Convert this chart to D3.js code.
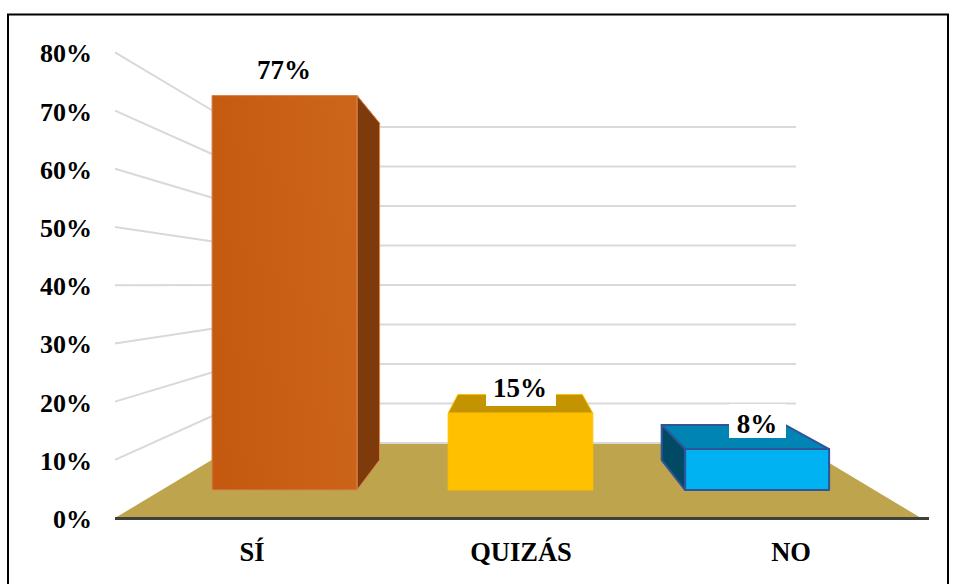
<!DOCTYPE html>
<html><head><meta charset="utf-8">
<script src="https://cdn.jsdelivr.net/npm/d3@7"></script>
<style>html,body{margin:0;padding:0;background:#fff}svg{display:block}text{font-family:"Liberation Serif","Times New Roman",serif;font-weight:700;fill:#000}</style>
</head><body><div id="c"></div>
<script>
const categories = ["SÍ","QUIZÁS","NO"];
const values = [77,15,8];
const labels = ["77%","15%","8%"];
const ticks = [0,10,20,30,40,50,60,70,80];
const frontColors = ["#c65c12","#ffc000","#00b2f2"];
const topColors = ["#c9621a","#c39300","#0084b4"];
const rightColors = ["#7f3a0b","#c39300","#0084b4"];
const leftColors = ["#c65c12","#c39300","#004a66"];
const strokes = ["#d9874e","#ffc000","#2f5597"];
const W=956,H=584;
const svg=d3.select("#c").append("svg").attr("width",W).attr("height",H);
const defs=svg.append("defs");
const g=defs.append("linearGradient").attr("id","g0").attr("x1","0").attr("x2","1").attr("y1","0.6").attr("y2","0.4");
g.append("stop").attr("offset","0").attr("stop-color","#c45a10");
g.append("stop").attr("offset","1").attr("stop-color","#cc6419");
svg.append("rect").attr("x",8).attr("y",14.5).attr("width",940).attr("height",H+10).attr("fill","#fff").attr("stroke","#000").attr("stroke-width",2);

// depth scales: d=0 front edge of floor, d=1 back wall
const baseY=d3.scaleLinear().domain([0,1]).range([518,443]);
const unit=d3.scaleLinear().domain([0,1]).range([5.82,3.95]);
const left=d3.scaleLinear().domain([0,1]).range([115,240]);
const right=d3.scaleLinear().domain([0,1]).range([921,796]);
const P=(u,v,d)=>[left(d)+(right(d)-left(d))*u, baseY(d)-v*unit(d)];
const poly=pts=>d3.line()(pts)+"Z";
const dF=0.373,dB=0.773;
const barU=[[0.0707,0.2741],[0.402,0.605],[0.7345,0.9365]];

// floor
svg.append("path").attr("d",poly([P(0,0,0),P(1,0,0),P(1,0,1),P(0,0,1)])).attr("fill","#bda44d");
// grid
const gl=svg.append("g").attr("stroke","#d9d9d9").attr("stroke-width",2).attr("fill","none");
ticks.forEach(t=>{
  if(t>0) gl.append("path").attr("d",d3.line()([P(0,t,0),P(0,t,1)]));
  gl.append("path").attr("d",d3.line()([P(0,t,1),P(1,t,1)]));
});
// axis
svg.append("line").attr("x1",115).attr("x2",929).attr("y1",518.5).attr("y2",518.5).attr("stroke","#404040").attr("stroke-width",3);
// tick labels
svg.selectAll(".yt").data(ticks).join("text").attr("class","yt").attr("x",92).attr("text-anchor","end")
 .attr("y",t=>P(0,t,0)[1]+10).attr("font-size",26).text(t=>t+"%");
// bars
categories.forEach((c,i)=>{
  const [a,b]=barU[i],v=values[i];
  const bar=svg.append("g").attr("stroke",strokes[i]).attr("stroke-width",i==2?2:1).attr("stroke-linejoin","round");
  bar.append("path").attr("d",poly([P(a,v,dF),P(b,v,dF),P(b,v,dB),P(a,v,dB)])).attr("fill",topColors[i]);
  if(i==0) bar.append("path").attr("d",poly([P(b,0,dF),P(b,v,dF),P(b,v,dB),P(b,0,dB)])).attr("fill",rightColors[i]);
  if(i==2) bar.append("path").attr("d",poly([P(a,0,dF),P(a,v,dF),P(a,v,dB),P(a,0,dB)])).attr("fill",leftColors[i]);
  bar.append("path").attr("d",poly([P(a,0,dF),P(b,0,dF),P(b,v,dF),P(a,v,dF)])).attr("fill",i==0?"url(#g0)":frontColors[i]);
});
// data labels
const lblX=[284,520,757],lblY=[79,397,433],boxes=[null,[486,371,70,35],[729,404,57,34]];
categories.forEach((c,i)=>{
  if(boxes[i]) svg.append("rect").attr("x",boxes[i][0]).attr("y",boxes[i][1]).attr("width",boxes[i][2]).attr("height",boxes[i][3]).attr("fill","#fff");
  svg.append("text").attr("x",lblX[i]).attr("y",lblY[i]).attr("text-anchor","middle").attr("font-size",27).text(labels[i]);
});
// category labels
const catX=d3.scaleOrdinal().domain(categories).range([252,521,791]);
svg.selectAll(".ct").data(categories).join("text").attr("class","ct").attr("x",c=>catX(c)).attr("y",561).attr("text-anchor","middle").attr("font-size",26.5).text(c=>c);
</script></body></html>
